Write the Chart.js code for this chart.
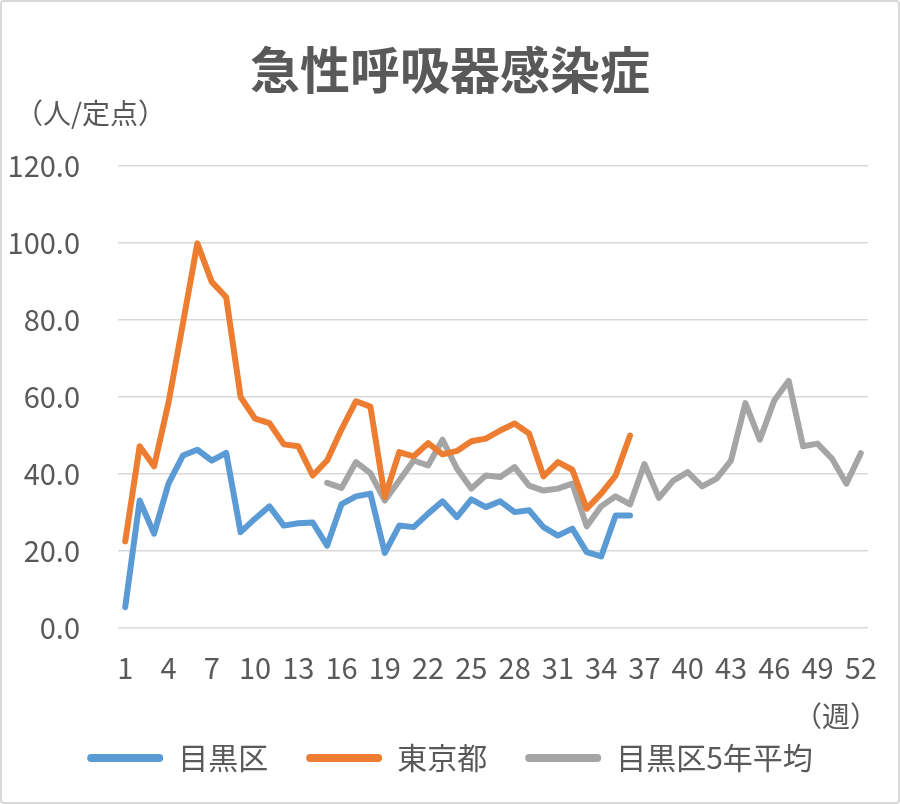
<!DOCTYPE html>
<html>
<head>
<meta charset="utf-8">
<script src="https://cdn.jsdelivr.net/npm/chart.js@4"></script>
<style>
  body { margin:0; background:#fff; }
  canvas { display:block; }
</style>
</head>
<body>
<canvas id="chart" width="900" height="804"></canvas>
<script>
const weeks = [];
for (let i = 1; i <= 52; i++) weeks.push(String(i));

// 目黒区 (weeks 1-36)
const meguro = [5.4,33.1,24.5,37.5,44.8,46.3,43.5,45.5,24.9,28.4,31.6,26.6,27.2,27.4,21.4,32.2,34.2,34.9,19.5,26.6,
  26.2,29.7,32.9,28.8,33.4,31.4,32.9,30.1,30.6,26.2,24.0,25.8,19.7,18.6,29.2,29.2];

// 東京都 (weeks 1-36)
const tokyo = [22.5,47.2,42.0,58.5,79.1,99.9,89.9,85.9,60.0,54.4,53.2,47.7,47.2,39.6,43.5,51.6,58.9,57.5,34.0,45.7,
  44.6,48.0,45.1,46.0,48.5,49.2,51.3,53.1,50.5,39.4,43.1,41.1,31.0,34.9,39.6,50.0];

// 目黒区5年平均 (weeks 15-52)
const meguro5y = [null,null,null,null,null,null,null,null,null,null,null,null,null,null,
  37.7,36.4,43.1,40.2,33.1,38.3,43.5,42.2,48.9,41.4,36.2,39.6,39.2,41.8,37.0,35.7,
  36.2,37.5,26.4,31.6,34.2,32.1,42.6,33.8,38.3,40.5,36.8,38.8,43.5,58.4,48.9,59.1,
  64.2,47.2,47.9,44.0,37.5,45.4];

const FONT = "'Noto Sans CJK JP', 'Noto Sans', sans-serif";
const TEXT = '#595959';

function series(label, data, color) {
    return {
        label: label,
        data: data,
        borderColor: color,
        backgroundColor: color,
        borderWidth: 6,
        borderJoinStyle: 'round',
        borderCapStyle: 'round',
        pointRadius: 0,
        pointHoverRadius: 0,
        tension: 0,
        fill: false
    };
}

// frame + unit labels
const extras = {
    id: 'extras',
    beforeDraw(chart) {
        const c = chart.ctx;
        c.save();
        c.fillStyle = '#fff';
        c.fillRect(0, 0, chart.width, chart.height);
        c.strokeStyle = '#d9d9d9';
        c.lineWidth = 2;
        c.beginPath();
        c.roundRect(1, 1, chart.width - 2, chart.height - 2, 3);
        c.stroke();
        c.restore();
    },
    afterDraw(chart) {
        const c = chart.ctx;
        c.save();
        c.fillStyle = TEXT;
        c.font = '28px ' + FONT;
        c.textBaseline = 'middle';
        c.textAlign = 'left';
        c.fillText('（人/定点）', 15, 113);
        c.textAlign = 'right';
        c.fillText('（週）', 878, 716);
        c.restore();
    }
};

new Chart(document.getElementById('chart'), {
    type: 'line',
    data: {
        labels: weeks,
        datasets: [
            series('目黒区', meguro, '#5B9BD5'),
            series('東京都', tokyo, '#ED7D31'),
            series('目黒区5年平均', meguro5y, '#A5A5A5')
        ]
    },
    options: {
        responsive: false,
        animation: false,
        devicePixelRatio: 1,
        layout: { padding: { left: 0, right: 0, top: 0, bottom: 21 } },
        plugins: {
            title: {
                display: true,
                text: '急性呼吸器感染症',
                color: TEXT,
                font: { family: FONT, size: 50, weight: 'bold' },
                padding: { top: 40, bottom: 66 }
            },
            legend: {
                position: 'bottom',
                labels: {
                    color: TEXT,
                    font: { family: FONT, size: 30 },
                    boxWidth: 76,
                    boxHeight: 8,
                    useBorderRadius: true,
                    borderRadius: 4,
                    padding: 38,
                    generateLabels: chart =>
                        Chart.defaults.plugins.legend.labels.generateLabels(chart)
                            .map(l => Object.assign(l, { lineWidth: 0 }))
                }
            },
            tooltip: { enabled: false }
        },
        scales: {
            x: {
                offset: true,
                grid: { display: false },
                border: { display: false },
                ticks: {
                    color: TEXT,
                    font: { family: FONT, size: 29 },
                    autoSkip: false,
                    maxRotation: 0,
                    padding: 15,
                    callback: function(v, i) { return i % 3 === 0 ? this.getLabelForValue(v) : ''; }
                },
                afterFit: s => { s.height = 77; }
            },
            y: {
                min: 0,
                max: 120,
                grid: { color: '#d9d9d9', lineWidth: 1.5, drawTicks: false },
                border: { display: false },
                ticks: {
                    stepSize: 20,
                    color: TEXT,
                    font: { family: FONT, size: 29 },
                    padding: 38,
                    callback: v => v.toFixed(1)
                },
                afterFit: s => { s.width = 118; }
            },
            yR: {
                position: 'right',
                display: true,
                grid: { display: false },
                border: { display: false },
                ticks: { display: false },
                afterFit: s => { s.width = 32; }
            }
        }
    },
    plugins: [extras]
});
</script>
</body>
</html>
